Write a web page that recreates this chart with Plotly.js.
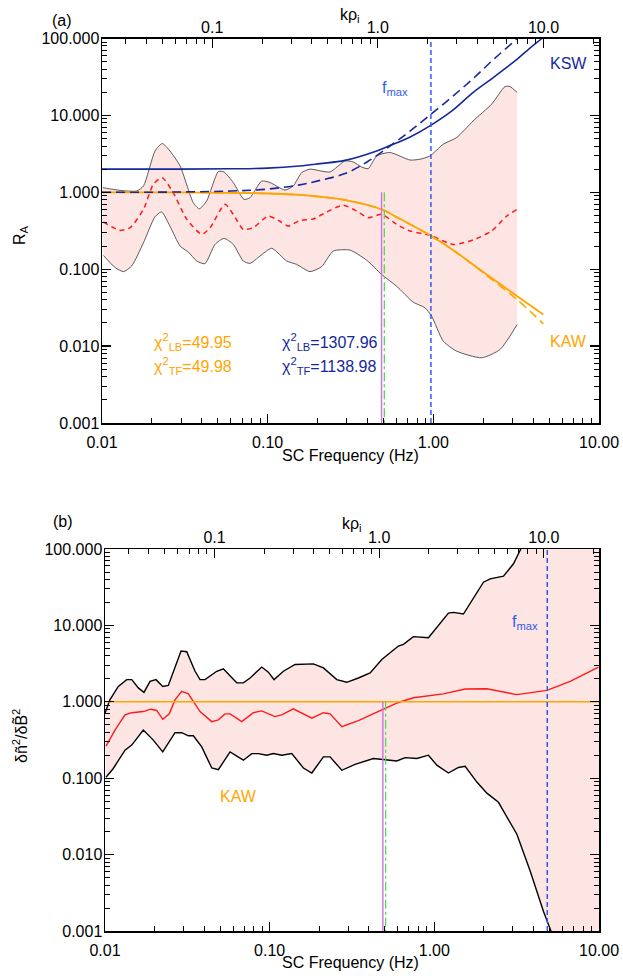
<!DOCTYPE html>
<html><head><meta charset="utf-8">
<script src="https://cdn.plot.ly/plotly-3.0.1.min.js"></script>
<style>html,body{margin:0;padding:0;background:#fff}#chart{width:623px;height:976px}</style>
</head><body><div id="chart"></div>
<script>
// ---------- Panel (a) data ----------
const fAUp = [0.0101,0.0117,0.0134,0.0162,0.0178,0.0209,0.0231,0.0257,0.0296,0.0356,0.0387,0.0428,0.0504,0.0545,0.0620,0.0719,0.0782,0.0920,0.1033,0.1272,0.1427,0.1604,0.1800,0.2377,0.2927,0.3286,0.3693,0.4046,0.4548,0.547,0.7225,0.830,0.954,1.148,1.382,1.741,2.248,2.705,2.899,3.208];
const rAUp = [1.15,1.09,1.05,1.04,1.21,3.45,4.31,3.45,2.20,0.73,0.61,0.77,1.86,1.84,1.34,0.81,0.85,1.40,1.34,1.07,1.21,1.80,2.00,1.84,2.56,2.48,2.13,2.03,2.97,3.29,2.63,2.69,2.97,4.22,5.15,8.5,14.0,23.7,23.7,19.9];
const fAMid = [0.0102,0.0128,0.0148,0.0178,0.0204,0.0231,0.0269,0.0325,0.0400,0.0449,0.0553,0.0620,0.0712,0.0819,0.1008,0.1186,0.1331,0.1566,0.1885,0.2271,0.2860,0.3444,0.4046,0.4875,0.6005,0.7225,0.954,1.318,1.741,2.248,2.770,3.208];
const rAMid = [0.41,0.32,0.347,0.60,1.27,1.55,0.99,0.445,0.284,0.347,0.70,0.517,0.33,0.347,0.49,0.42,0.364,0.43,0.45,0.555,0.68,0.57,0.468,0.517,0.383,0.314,0.276,0.21,0.24,0.314,0.49,0.60];
const fALo = [0.0102,0.0120,0.0135,0.0151,0.0178,0.0209,0.0229,0.0257,0.0296,0.0332,0.0373,0.0418,0.0481,0.0545,0.0620,0.0712,0.0782,0.0898,0.1057,0.1302,0.1496,0.1800,0.2118,0.2488,0.3139,0.3958,0.4875,0.6005,0.7562,0.8895,0.9765,1.148,1.382,1.956,2.523,3.208];
const rALo = [0.151,0.105,0.093,0.11,0.221,0.482,0.555,0.364,0.20,0.167,0.128,0.118,0.21,0.252,0.21,0.128,0.119,0.148,0.187,0.128,0.1155,0.093,0.108,0.172,0.177,0.131,0.0855,0.060,0.0373,0.0315,0.0245,0.0116,0.0086,0.00705,0.009,0.0191];
const fKswSolid = [0.01,0.03,0.06,0.1,0.156,0.207,0.293,0.455,0.547,0.72,0.954,1.3,1.741,2.3,3.208,3.8,4.52,5.0];
const rKswSolid = [2.0,2.0,2.02,2.06,2.2,2.36,2.6,3.45,4.05,5.2,7.3,11.5,19.9,31,54,74,100,120];
const fKswDash = [0.01,0.03,0.06,0.1,0.156,0.207,0.293,0.4,0.547,0.72,0.954,1.3,1.741,2.3,3.21,3.5];
const rKswDash = [1.0,1.01,1.04,1.1,1.25,1.43,1.75,2.5,4.0,6.2,10.1,17.5,30.2,53,100,120];
const fKawSolid = [0.01,0.03,0.06,0.1,0.156,0.207,0.3,0.4875,0.6005,0.954,1.38,2.0,3.21,4.61];
const rKawSolid = [1.0,0.995,0.985,0.965,0.925,0.875,0.785,0.60,0.475,0.276,0.165,0.092,0.0445,0.0258];
const fKawDash = [0.01,0.03,0.06,0.1,0.156,0.207,0.3,0.4875,0.6005,0.954,1.38,2.0,3.21,4.61];
const rKawDash = [1.0,0.995,0.985,0.965,0.925,0.875,0.785,0.60,0.475,0.276,0.165,0.090,0.040,0.0195];
const fMagenta = 0.487, fGreen = 0.506, fMaxA = 0.967, fMaxB = 4.85;

// ---------- Panel (b) data ----------
const fBUp = [0.0100,0.0107,0.01205,0.01354,0.01453,0.01594,0.01725,0.01877,0.02041,0.02242,0.02424,0.02896,0.03136,0.03523,0.03777,0.04050,0.04770,0.05232,0.06311,0.06921,0.07602,0.08954,0.09820,0.1063,0.1211,0.1427,0.1843,0.2025,0.2120,0.2557,0.2940,0.3459,0.4074,0.4797,0.6052,0.6491,0.7464,0.9209,1.2175,1.3063,1.5023,1.9877,2.1827,2.6292,3.0241,3.4012,4.0,5.0,7.0,10.0];
const rBUp = [0.71,1.06,1.59,1.95,1.95,1.52,1.33,1.85,1.95,1.59,1.64,4.61,4.52,2.51,1.95,1.95,2.51,2.70,1.77,1.77,2.05,2.85,2.44,1.95,2.51,3.08,3.14,2.92,2.78,1.95,1.80,2.05,2.39,3.58,5.37,5.65,7.13,6.9,14.5,14.8,14.1,36.8,40.7,44.2,64,107,170,350,1000,3000];
const fBMid = [0.01014,0.0115,0.01323,0.01453,0.01709,0.01895,0.02061,0.02242,0.02458,0.02662,0.02924,0.03207,0.03777,0.04449,0.04878,0.05358,0.05745,0.06768,0.07962,0.08954,0.1078,0.1184,0.1393,0.1567,0.1803,0.2120,0.2328,0.2742,0.3459,0.4908,0.6052,0.7464,1.1357,1.5383,2.0843,3.1711,4.825,6.683,9.93];
const rBMid = [0.263,0.427,0.674,0.72,0.745,0.80,0.77,0.59,0.695,1.06,1.37,1.27,0.745,0.55,0.58,0.695,0.695,0.55,0.72,0.76,0.64,0.674,0.81,0.71,0.61,0.72,0.695,0.472,0.567,0.80,0.98,1.13,1.27,1.47,1.48,1.24,1.41,1.85,2.84];
const fBLo = [0.01014,0.0112,0.01323,0.01453,0.01709,0.01965,0.02242,0.02662,0.02924,0.03207,0.03440,0.03868,0.04449,0.04878,0.05745,0.06921,0.07784,0.08537,0.09603,0.1053,0.1184,0.1362,0.1603,0.1803,0.2120,0.2328,0.2742,0.3302,0.4266,0.4908,0.5918,0.6647,0.7828,0.9209,1.0356,1.2175,1.4007,1.5383,1.8128,2.0843,2.4513,3.1711,3.8194,4.601,5.175,6.5,8.0,10.0];
const rBLo = [0.103,0.133,0.233,0.271,0.427,0.315,0.221,0.394,0.394,0.359,0.359,0.257,0.136,0.129,0.221,0.172,0.21,0.21,0.20,0.21,0.20,0.21,0.136,0.117,0.19,0.19,0.127,0.152,0.181,0.175,0.168,0.186,0.181,0.20,0.148,0.117,0.138,0.143,0.089,0.0637,0.0484,0.0185,0.0061,0.0018,0.00093,0.0003,0.0001,0.00004];

// ---------- Tick labels ----------
const yTickVals = [0.001,0.01,0.1,1,10,100];
const yTickText = ['0.001','0.010','0.100','1.000','10.000','100.000'];
const xTickVals = [0.01,0.1,1,10];
const xTickText = ['0.01','0.10','1.00','10.00'];
const kTickVals = [0.1,1,10];
const kTickText = ['0.1','1.0','10.0'];
const kShift = 0.335; // log10(k rho_i / f)

// ---------- styling ----------
const W = 623, H = 976;
const px = x => x / W, py = y => 1 - y / H;
const FONT = 'Liberation Sans, Arial, Helvetica, sans-serif';
const NAVY = '#15299a', ORANGE = '#ffa500', RED = '#ff1a1a', PINK = '#fde5e3';
const FMAXC = '#2f5cf0', MAG = '#d56de8', GRN = '#4fdc4f';

function minorTicks(lo, hi) {
  const v = [];
  for (let e = lo; e <= hi; e++) for (let m = 2; m <= 9; m++) v.push(m * Math.pow(10, e));
  return v;
}
const minorStyle = (vals) => ({ticks:'inside', ticklen:5, tickwidth:1, tickcolor:'black', tickmode:'array', tickvals: vals, showgrid:false});

const traces = [];
// Panel a
traces.push({x:fALo, y:rALo, xaxis:'x', yaxis:'y', mode:'lines', line:{color:'#333', width:0.8, shape:'spline', smoothing:0.6}, hoverinfo:'skip'});
traces.push({x:fAUp, y:rAUp, xaxis:'x', yaxis:'y', mode:'lines', fill:'tonexty', fillcolor:PINK, line:{color:'#333', width:0.8, shape:'spline', smoothing:0.6}, hoverinfo:'skip'});
traces.push({x:fAMid, y:rAMid, xaxis:'x', yaxis:'y', mode:'lines', line:{color:RED, width:1.5, dash:'5px,4px', shape:'spline', smoothing:0.6}});
traces.push({x:fKawDash, y:rKawDash, xaxis:'x', yaxis:'y', mode:'lines', line:{color:ORANGE, width:1.6, dash:'9px,5px', shape:'spline'}});
traces.push({x:fKawSolid, y:rKawSolid, xaxis:'x', yaxis:'y', mode:'lines', line:{color:ORANGE, width:1.8, shape:'spline'}});
traces.push({x:fKswSolid, y:rKswSolid, xaxis:'x', yaxis:'y', mode:'lines', line:{color:NAVY, width:1.6, shape:'spline'}});
traces.push({x:fKswDash, y:rKswDash, xaxis:'x', yaxis:'y', mode:'lines', line:{color:NAVY, width:1.6, dash:'9px,5px', shape:'spline'}});
traces.push({x:[fMagenta,fMagenta], y:[1,0.001], xaxis:'x', yaxis:'y', mode:'lines', line:{color:MAG, width:1.4}});
traces.push({x:[fGreen,fGreen], y:[1,0.001], xaxis:'x', yaxis:'y', mode:'lines', line:{color:GRN, width:1.3, dash:'dashdot'}});
traces.push({x:[fMaxA,fMaxA], y:[0.001,100], xaxis:'x', yaxis:'y', mode:'lines', line:{color:FMAXC, width:1.5, dash:'5px,3px'}});
// top (k rho_i) axis carrier for panel a
traces.push({x:kTickVals, y:[1,1,1], xaxis:'x2', yaxis:'y', mode:'none', hoverinfo:'skip'});
// Panel b
traces.push({x:fBLo, y:rBLo, xaxis:'x3', yaxis:'y2', mode:'lines', line:{color:'black', width:1.4}, hoverinfo:'skip'});
traces.push({x:fBUp, y:rBUp, xaxis:'x3', yaxis:'y2', mode:'lines', fill:'tonexty', fillcolor:PINK, line:{color:'black', width:1.4}, hoverinfo:'skip'});
traces.push({x:fBMid, y:rBMid, xaxis:'x3', yaxis:'y2', mode:'lines', line:{color:RED, width:1.4}});
traces.push({x:[0.01,10], y:[1,1], xaxis:'x3', yaxis:'y2', mode:'lines', line:{color:ORANGE, width:1.4}});
traces.push({x:[fMagenta,fMagenta], y:[1,0.001], xaxis:'x3', yaxis:'y2', mode:'lines', line:{color:MAG, width:1.4}});
traces.push({x:[fGreen,fGreen], y:[1,0.001], xaxis:'x3', yaxis:'y2', mode:'lines', line:{color:GRN, width:1.3, dash:'dashdot'}});
traces.push({x:[fMaxB,fMaxB], y:[0.001,100], xaxis:'x3', yaxis:'y2', mode:'lines', line:{color:FMAXC, width:1.5, dash:'5px,3px'}});
traces.push({x:kTickVals, y:[1,1,1], xaxis:'x4', yaxis:'y2', mode:'none', hoverinfo:'skip'});

const base = {type:'log', showline:true, linecolor:'black', linewidth:1.5, ticks:'inside', ticklen:9, tickwidth:1.3, tickcolor:'black',
  showgrid:false, zeroline:false, automargin:false, tickfont:{family:FONT, size:16, color:'black'}, tickmode:'array', fixedrange:true};

const xBottom = (anchor, dom) => Object.assign({}, base, {anchor:anchor, domain:dom, range:[-2,1], tickvals:xTickVals, ticktext:xTickText,
  minor:minorStyle(minorTicks(-2,0)), mirror:false, ticklabelstandoff:4});
const xTop = (over, anchor) => Object.assign({}, base, {overlaying:over, anchor:anchor, side:'top', range:[-2+kShift,1+kShift], tickvals:kTickVals, ticktext:kTickText,
  minor:minorStyle(minorTicks(-2,1)), ticklabelstandoff:-2});
const yAx = (anchor, dom) => Object.assign({}, base, {anchor:anchor, domain:dom, range:[-3,2], tickvals:yTickVals, ticktext:yTickText,
  minor:minorStyle(minorTicks(-3,1)), mirror:'ticks', ticklabelstandoff:-2});

const ann = (x, y, text, color, extra) => Object.assign({xref:'paper', yref:'paper', x:px(x), y:py(y), text:text, showarrow:false,
  xanchor:'center', yanchor:'middle', font:{family:FONT, size:16, color:color}}, extra || {});

const layout = {
  width:W, height:H, margin:{l:0, r:0, t:0, b:0}, paper_bgcolor:'white', plot_bgcolor:'white', showlegend:false,
  xaxis: xBottom('y', [px(102), px(599)]),
  xaxis2: xTop('x', 'y'),
  yaxis: yAx('x', [py(423), py(38.5)]),
  xaxis3: xBottom('y2', [px(105), px(599)]),
  xaxis4: xTop('x3', 'y2'),
  yaxis2: yAx('x3', [py(931), py(549)]),
  annotations: [
    ann(62, 21, '(a)', 'black'),
    ann(350, 15, 'kρ<sub>i</sub>', 'black'),
    ann(395, 89, 'f<sub>max</sub>', FMAXC),
    ann(568, 64, 'KSW', NAVY),
    ann(568, 341, 'KAW', ORANGE),
    ann(152, 342, 'χ<sup>2</sup><sub>LB</sub>=49.95', ORANGE, {xanchor:'left'}),
    ann(152, 366, 'χ<sup>2</sup><sub>TF</sub>=49.98', ORANGE, {xanchor:'left'}),
    ann(280, 342, 'χ<sup>2</sup><sub>LB</sub>=1307.96', NAVY, {xanchor:'left'}),
    ann(280, 366, 'χ<sup>2</sup><sub>TF</sub>=1138.98', NAVY, {xanchor:'left'}),
    ann(20, 235, 'R<sub>A</sub>', 'black', {textangle:-90}),
    ann(350, 456, 'SC Frequency (Hz)', 'black'),
    ann(63, 521, '(b)', 'black'),
    ann(352, 524, 'kρ<sub>i</sub>', 'black'),
    ann(525, 622, 'f<sub>max</sub>', FMAXC),
    ann(238, 796, 'KAW', ORANGE),
    ann(20, 736, 'δñ<sup>2</sup>/δB̃<sup>2</sup>', 'black', {textangle:-90}),
    ann(350, 962, 'SC Frequency (Hz)', 'black')
  ]
};
Plotly.newPlot('chart', traces, layout, {displayModeBar:false, staticPlot:true});
</script>
</body></html>
